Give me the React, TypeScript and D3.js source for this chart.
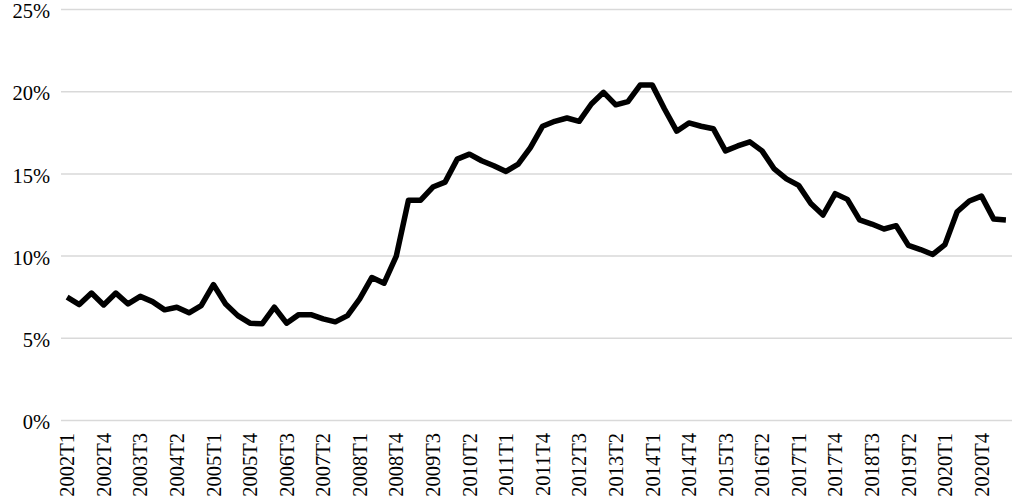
import React from "react";
import * as d3 from "d3";

const quarters: string[] = [];
for (let y = 2002; y <= 2021; y++) {
  for (let q = 1; q <= 4; q++) {
    if (y === 2021 && q > 2) break;
    quarters.push(`${y}T${q}`);
  }
}

const values: number[] = [
  7.5, 7.05, 7.75, 7.03, 7.75, 7.09, 7.55, 7.23, 6.73, 6.89, 6.55, 6.99,
  8.27, 7.09, 6.38, 5.92, 5.88, 6.89, 5.92, 6.44, 6.44, 6.18, 6.0, 6.38,
  7.4, 8.7, 8.35, 10.0, 13.4, 13.4, 14.2, 14.5, 15.9, 16.2, 15.8, 15.5,
  15.15, 15.6, 16.6, 17.9, 18.2, 18.4, 18.2, 19.25, 19.96, 19.2, 19.4, 20.4,
  20.4, 18.95, 17.6, 18.1, 17.9, 17.75, 16.4, 16.7, 16.95, 16.4, 15.3, 14.7,
  14.3, 13.2, 12.5, 13.8, 13.45, 12.2, 11.95, 11.65, 11.85, 10.65, 10.4, 10.1,
  10.7, 12.7, 13.35, 13.65, 12.25, 12.2,
];

const yTicks: number[] = [0, 5, 10, 15, 20, 25];

const W = 1013;
const H = 503;
const left = 61;
const right = 1012;
const top = 9.5;
const bottom = 420.5;

export default function App() {
  const x = d3.scaleBand<string>().domain(quarters).range([left, right]).padding(0);
  const y = d3.scaleLinear().domain([0, 25]).range([bottom, top]);
  const cx = (c: string) => (x(c) as number) + x.bandwidth() / 2;
  const line = d3
    .line<number>()
    .x((_, i) => cx(quarters[i]))
    .y((d) => y(d));
  const labelled = quarters.filter((_, i) => i % 3 === 0);
  const font = "'Liberation Serif', 'Times New Roman', serif";
  return (
    <div style={{ position: "absolute", left: 0, top: 0 }}>
      <svg width={W} height={H} style={{ display: "block", background: "#fff" }}>
        {yTicks.map((t) => (
          <g key={t}>
            <line x1={left} x2={right} y1={y(t)} y2={y(t)} stroke="#d9d9d9" strokeWidth={1.5} />
            <text
              x={50}
              y={y(t)}
              dy="0.42em"
              textAnchor="end"
              fontFamily={font}
              fontSize={20.5}
              fill="#000"
            >
              {t}%
            </text>
          </g>
        ))}
        <path d={line(values) || ""} fill="none" stroke="#000" strokeWidth={5.5} strokeLinejoin="round" />
        {labelled.map((c) => (
          <text
            key={c}
            transform={`translate(${cx(c)},433) rotate(-90)`}
            dy="0.35em"
            textAnchor="end"
            fontFamily={font}
            fontSize={20.5}
            fill="#000"
          >
            {c}
          </text>
        ))}
      </svg>
    </div>
  );
}
